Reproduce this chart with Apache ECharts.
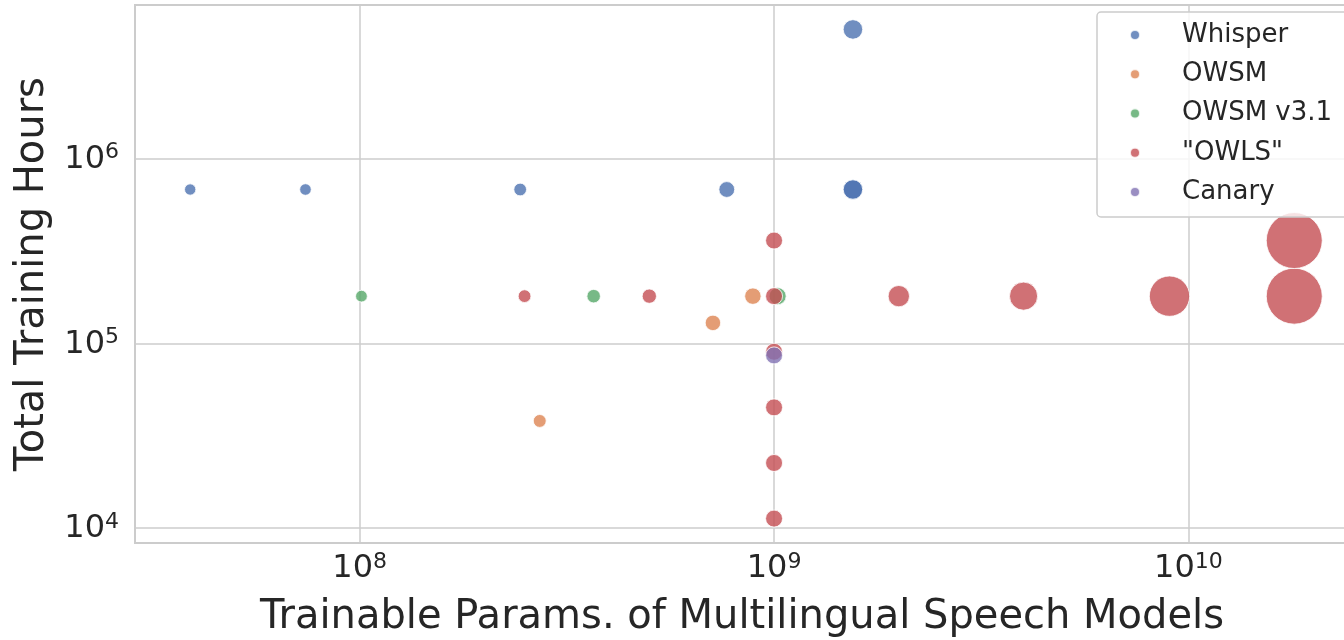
<!DOCTYPE html>
<html>
<head>
<meta charset="utf-8">
<script src="https://cdn.jsdelivr.net/npm/echarts@6/dist/echarts.min.js"></script>
<style>
  html, body { margin: 0; padding: 0; background: #fff; overflow: hidden; }
  #chart { width: 1344px; height: 640px; }
</style>
</head>
<body>
<div id="chart"></div>
<script>
// 模型参数量 / 训练时长
var whisperParams = [39e6, 74e6, 244e6, 769e6, 1550e6, 1550e6, 1550e6];
var whisperHours  = [680e3, 680e3, 680e3, 680e3, 680e3, 680e3, 5e6];
var owsmParams = [272e6, 712e6, 889e6];
var owsmHours  = [38e3, 129e3, 180e3];
var owsm31Params = [101e6, 367e6, 1020e6];
var owsm31Hours  = [180e3, 180e3, 180e3];
var owlsParams = [250e6, 500e6, 1e9, 1e9, 1e9, 1e9, 1e9, 1e9, 2e9, 4e9, 9e9, 18e9, 18e9];
var owlsHours  = [180e3, 180e3, 11.25e3, 22.5e3, 45e3, 90e3, 180e3, 360e3, 180e3, 180e3, 180e3, 180e3, 360e3];
var canaryParams = [1e9];
var canaryHours  = [86e3];

var seriesNames = ['Whisper', 'OWSM', 'OWSM v3.1', '"OWLS"', 'Canary'];
var seriesColors = ['#4C72B0', '#DD8452', '#55A868', '#C44E52', '#8172B3'];

var chart = echarts.init(document.getElementById('chart'));

function toPoints(px, hy) {
    var out = [];
    for (var i = 0; i < px.length; i++) out.push([px[i], hy[i]]);
    return out;
}

// 面积随参数量线性变化
function markSize(v) {
    return Math.sqrt(121 + 167.5 * v[0] / 1e9);
}

function powLabel(v) {
    var e = Math.round(Math.log(v) / Math.LN10);
    return '{b|10}{s|' + e + '}';
}

var richPow = {
    b: { fontSize: 32, color: '#262626', fontFamily: 'DejaVu Sans', lineHeight: 34, verticalAlign: 'bottom' },
    s: { fontSize: 22, color: '#262626', fontFamily: 'DejaVu Sans', lineHeight: 22, verticalAlign: 'top' }
};

var allData = [
    toPoints(whisperParams, whisperHours),
    toPoints(owsmParams, owsmHours),
    toPoints(owsm31Params, owsm31Hours),
    toPoints(owlsParams, owlsHours),
    toPoints(canaryParams, canaryHours)
];

var series = seriesNames.map(function (name, i) {
    return {
        name: name,
        type: 'scatter',
        data: allData[i],
        symbol: 'circle',
        symbolSize: markSize,
        itemStyle: {
            color: seriesColors[i],
            opacity: 0.8,
            borderColor: '#ffffff',
            borderWidth: 1
        },
        emphasis: { disabled: true }
    };
});

var option = {
    backgroundColor: '#ffffff',
    animation: false,
    textStyle: { fontFamily: 'DejaVu Sans' },
    grid: {
        left: 135,
        top: 5,
        width: 1214,
        height: 538,
        show: true,
        borderColor: '#cccccc',
        borderWidth: 2,
        containLabel: false,
        outerBoundsMode: 'none'
    },
    legend: {
        orient: 'vertical',
        left: 1097,
        top: 12,
        width: 400,
        padding: [10, 60, 12, 32],
        itemGap: 13.25,
        itemWidth: 10,
        itemHeight: 10,
        icon: 'circle',
        backgroundColor: 'rgba(255,255,255,0.8)',
        borderColor: '#cccccc',
        borderWidth: 1.5,
        borderRadius: 4,
        data: seriesNames,
        textStyle: {
            fontSize: 26,
            color: '#262626',
            fontFamily: 'DejaVu Sans',
            lineHeight: 26,
            padding: [0, 0, 0, 37]
        }
    },
    xAxis: {
        type: 'log',
        logBase: 10,
        min: 2.87e7,
        max: 2.44e10,
        name: 'Trainable Params. of Multilingual Speech Models',
        nameLocation: 'middle',
        nameGap: 55,
        nameTextStyle: { fontSize: 40, color: '#262626', fontFamily: 'DejaVu Sans' },
        axisLine: { show: false },
        axisTick: { show: false },
        splitLine: { show: true, lineStyle: { color: '#cccccc', width: 1.5 } },
        minorTick: { show: false },
        axisLabel: {
            showMinLabel: false,
            showMaxLabel: false,
            margin: 8,
            formatter: powLabel,
            rich: richPow
        }
    },
    yAxis: {
        type: 'log',
        logBase: 10,
        min: 8300,
        max: 6.78e6,
        name: 'Total Training Hours',
        nameLocation: 'middle',
        nameGap: 82,
        nameRotate: 90,
        nameTextStyle: { fontSize: 40, color: '#262626', fontFamily: 'DejaVu Sans' },
        axisLine: { show: false },
        axisTick: { show: false },
        splitLine: { show: true, lineStyle: { color: '#cccccc', width: 1.5 } },
        axisLabel: {
            showMinLabel: false,
            showMaxLabel: false,
            margin: 16,
            formatter: powLabel,
            rich: richPow
        }
    },
    series: series
};

chart.setOption(option);
window.onresize = function () {
    chart.resize();
};
</script>
</body>
</html>
